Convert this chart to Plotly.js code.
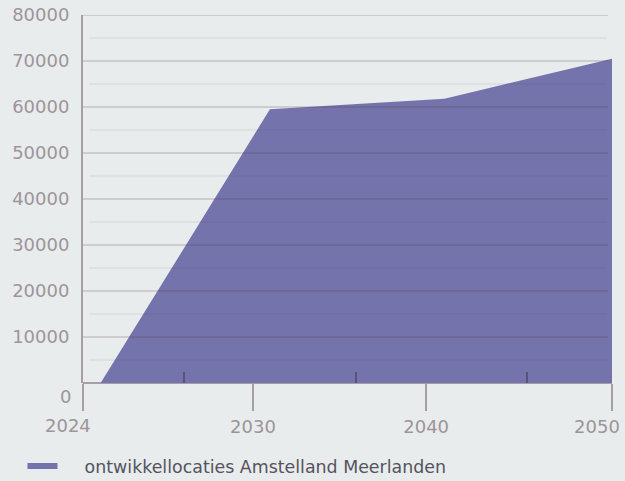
<!DOCTYPE html>
<html>
<head>
<meta charset="utf-8">
<script src="https://cdn.plot.ly/plotly-3.0.1.min.js"></script>
<style>
  html, body { margin: 0; padding: 0; background: #e8eced; }
  #chart { width: 625px; height: 481px; }
</style>
</head>
<body>
<div id="chart"></div>
<script>
// ---- data ----
const seriesName = 'ontwikkellocaties Amstelland Meerlanden';
const xPos = [0.1, 1.06, 2.05, 3.0];          // position of each data point on the x scale
const values = [0, 59500, 61800, 70500];       // number of dwellings
const xTickPos = [0, 0.964, 1.946, 3];
const xTickLabels = ['2024', '2030', '2040', '2050'];
const xLabelPos = [-0.085, 0.964, 1.946, 2.915];
const xMinorTicks = [0.57, 1.55, 2.52];
const yTicks = [10000, 20000, 30000, 40000, 50000, 60000, 70000, 80000];
const yMinorGrid = [5000, 15000, 25000, 35000, 45000, 55000, 65000, 75000];

const labelFont = { family: 'DejaVu Sans', size: 18, color: '#9e9499' };
const xRange = [0, 3];
const plotWidthPx = 625 - 83 - 13;

const shapes = [];
yMinorGrid.forEach(v => shapes.push({
  type: 'line', xref: 'paper', yref: 'y', x0: 0.012, x1: 0.99, y0: v, y1: v,
  layer: 'above', line: { color: 'rgba(80,60,85,0.08)', width: 1.5 }
}));
yTicks.forEach(v => shapes.push({
  type: 'line', xref: 'paper', yref: 'y', x0: 0, x1: 0.993, y0: v, y1: v,
  layer: 'above', line: { color: 'rgba(95,55,80,0.18)', width: 2 }
}));

const traces = [
  {
    type: 'scatter', x: xPos, y: values,
    name: '\u00a0\u00a0\u00a0\u00a0' + seriesName,
    mode: 'none', fill: 'tozeroy', fillcolor: '#7473ab', hoverinfo: 'skip'
  },
  { type: 'scatter', x: [], y: [], xaxis: 'x2', showlegend: false, hoverinfo: 'skip' }
];

// labels that fall left of the plot area cannot be drawn by the axis itself
const annotations = [{
  text: '0', xref: 'paper', yref: 'y', x: 0, y: 0, xanchor: 'right', yanchor: 'middle',
  xshift: -10, yshift: -13, showarrow: false, font: labelFont
}];
xTickLabels.forEach((t, i) => {
  if (xLabelPos[i] < xRange[0]) {
    const px = (xLabelPos[i] - xRange[0]) / (xRange[1] - xRange[0]) * plotWidthPx;
    annotations.push({
      text: t, xref: 'paper', yref: 'paper', x: 0, y: 0, xanchor: 'center', yanchor: 'middle',
      xshift: px, yshift: -42, showarrow: false, font: labelFont
    });
  }
});

const layout = {
  width: 625, height: 481,
  margin: { l: 83, r: 13, t: 15, b: 98 },
  paper_bgcolor: '#e8eced', plot_bgcolor: '#e8eced',
  showlegend: true,
  legend: {
    xref: 'container', yref: 'container', x: 0.036, y: 0.031,
    xanchor: 'left', yanchor: 'middle', orientation: 'h',
    bgcolor: 'rgba(0,0,0,0)', itemwidth: 30,
    font: { family: 'DejaVu Sans', size: 17.4, color: '#56535e' }
  },
  xaxis: {
    range: xRange, tickmode: 'array', tickvals: xTickPos, showticklabels: false,
    ticks: 'outside', ticklen: 27, tickwidth: 2, tickcolor: '#a59fa4',
    showgrid: false, zeroline: false, showline: false, layer: 'above traces',
    minor: { tickmode: 'array', tickvals: xMinorTicks, ticks: 'inside', ticklen: 11, tickwidth: 2, tickcolor: '#57537c', showgrid: false },
    fixedrange: true
  },
  xaxis2: {
    overlaying: 'x', anchor: 'y', side: 'bottom', range: xRange,
    tickmode: 'array', tickvals: xLabelPos, ticktext: xTickLabels,
    ticks: 'outside', ticklen: 27, tickcolor: 'rgba(0,0,0,0)',
    showgrid: false, zeroline: false, showline: false, tickfont: labelFont, fixedrange: true
  },
  yaxis: {
    range: [0, 80000], tickmode: 'array', tickvals: yTicks, ticktext: yTicks.map(String),
    showgrid: false, zeroline: true, zerolinecolor: '#a59fa4', zerolinewidth: 2,
    showline: true, linecolor: '#a59fa4', linewidth: 2,
    ticks: '', ticklabelstandoff: 8, tickfont: labelFont, fixedrange: true
  },
  annotations: annotations,
  shapes: shapes
};

Plotly.newPlot('chart', traces, layout, { displayModeBar: false, staticPlot: true });
</script>
</body>
</html>
